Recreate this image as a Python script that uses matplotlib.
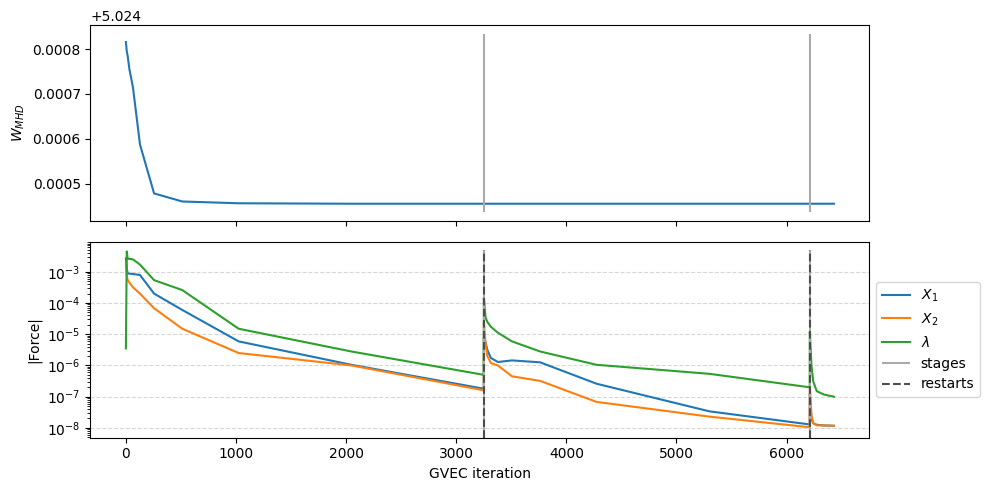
import matplotlib
matplotlib.use("Agg")
import matplotlib.pyplot as plt

# saved iterations (restarts repeat the iteration with a new value)
iterations = [0, 8, 16, 32, 64, 128, 256, 512, 1024, 2048, 3250,
              3251, 3266, 3282, 3314, 3378, 3506, 3762, 4274, 5298, 6210,
              6211, 6226, 6242, 6274, 6338, 6430]

w_mhd = [5.024816, 5.024795, 5.024785, 5.024755, 5.024715, 5.024587, 5.024478,
         5.024460, 5.024456, 5.024455, 5.024455,
         5.024455, 5.024455, 5.024455, 5.024455, 5.024455, 5.024455, 5.024455,
         5.024455, 5.024455, 5.024455,
         5.024455, 5.024455, 5.024455, 5.024455, 5.024455, 5.024455]

force_x1 = [2.7e-3, 1.3e-3, 8.9e-4, 8.7e-4, 8.5e-4, 7.9e-4, 2.0e-4, 6.0e-5, 5.9e-6, 1.05e-6, 1.8e-7,
            7.9e-6, 5.6e-6, 3.2e-6, 1.74e-6, 1.29e-6, 1.45e-6, 1.26e-6, 2.6e-7, 3.4e-8, 1.29e-8,
            1.26e-7, 2.0e-8, 1.4e-8, 1.26e-8, 1.2e-8, 1.17e-8]

force_x2 = [1.7e-3, 8.0e-4, 5.4e-4, 4.5e-4, 3.2e-4, 2.0e-4, 6.8e-5, 1.5e-5, 2.5e-6, 1.0e-6, 1.6e-7,
            2.5e-5, 5.0e-6, 2.0e-6, 1.2e-6, 1.0e-6, 4.5e-7, 3.2e-7, 6.8e-8, 2.3e-8, 1.05e-8,
            2.1e-7, 2.5e-8, 1.45e-8, 1.2e-8, 1.2e-8, 1.17e-8]

force_lam = [3.5e-6, 4.5e-3, 2.6e-3, 2.6e-3, 2.5e-3, 1.7e-3, 5.4e-4, 2.6e-4, 1.5e-5, 2.8e-6, 5.0e-7,
             1.5e-4, 3.5e-5, 2.5e-5, 1.74e-5, 1.12e-5, 5.9e-6, 2.8e-6, 1.05e-6, 5.4e-7, 2.0e-7,
             1.2e-5, 1.0e-6, 3.1e-7, 1.5e-7, 1.17e-7, 1.0e-7]

stages = [3250, 6210]
restarts = [3250, 6210]

fig, (ax1, ax2) = plt.subplots(2, 1, sharex=True, figsize=(9.89, 4.9), dpi=100)
fig.subplots_adjust(left=0.0915, right=0.879, top=0.949, bottom=0.107, hspace=0.108)

ax1.plot(iterations, w_mhd, color="C0")
lo, hi = ax1.get_ylim()
ax1.vlines(stages, lo, hi, color="#aaaaaa")
ax1.set_ylabel("$W_{MHD}$")

ax2.plot(iterations, force_x1, color="C0", label="$X_1$")
ax2.plot(iterations, force_x2, color="C1", label="$X_2$")
ax2.plot(iterations, force_lam, color="C2", label="$\\lambda$")
ax2.set_yscale("log")
ax2.set_ylim(4.9e-9, 9.1e-3)
ax2.vlines(stages, 4.9e-9, 4.9e-3, color="#aaaaaa", label="stages")
ax2.vlines(restarts, 4.9e-9, 4.9e-3, color="0.3", linestyles="--", label="restarts")
ax2.grid(True, which="major", axis="y", linestyle="--", alpha=0.5)
ax2.set_ylabel("|Force|")
ax2.set_xlabel("GVEC iteration")
ax2.legend(loc="center left", bbox_to_anchor=(1.0, 0.5))

fig.savefig("out.png")
